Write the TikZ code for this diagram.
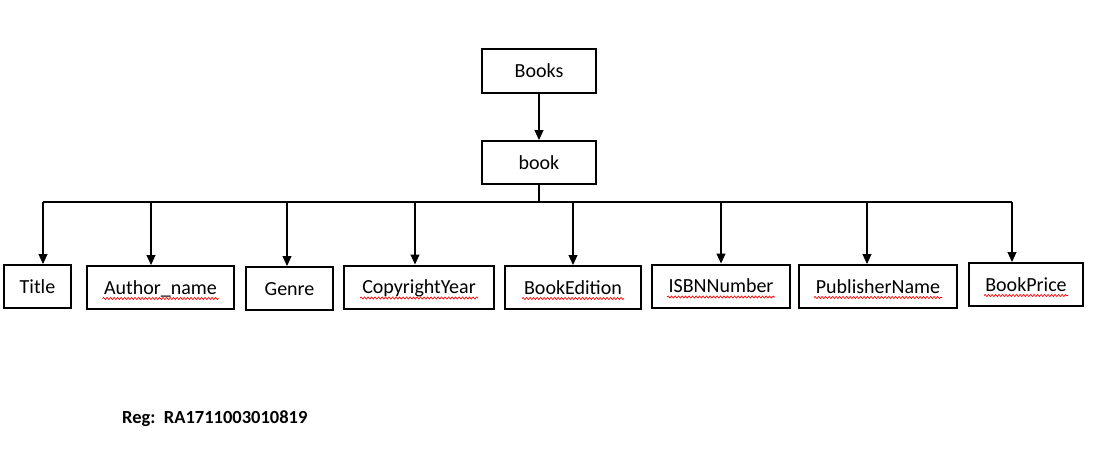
\documentclass[tikz,border=0pt]{standalone}
\usepackage{fontspec}
\setmainfont{Carlito}
\usetikzlibrary{arrows.meta}
\usetikzlibrary{decorations.pathmorphing}

\begin{document}
\begin{tikzpicture}[x=1pt,y=-1pt,>={Triangle[width=9pt,length=10pt]},
  box/.style={draw,line width=2pt,minimum height=43pt,inner sep=0pt,text height=18pt,text depth=5pt,
    font=\fontsize{20}{24}\selectfont},
  link/.style={line width=1.1pt},
  redwave/.style={draw=red,line width=0.7pt,decorate,decoration={snake,amplitude=1pt,segment length=3.5pt}}]
\useasboundingbox (0,0) rectangle (1093,469);
% The root and the record
\node[box,minimum width=114pt,minimum height=44pt] (books) at (539,71) {Books};
\node[box,minimum width=114pt] (book) at (539,162.5) {book};
\draw[link,->] (books.south) -- (book.north);
% The bus
\coordinate (bus) at (539,202);
\draw[link] (book.south) -- (bus);
% The fields (last column: half length of the spell-check wave)
\foreach \n/\cx/\cy/\w/\ax/\txt/\hw in {
  title/37.5/286.5/67pt/43/Title/0,
  author/160.5/287.5/147pt/151/Author\_name/58,
  genre/289.5/288.5/87pt/287/Genre/0,
  copy/419/287/150pt/415/CopyrightYear/59,
  edition/573/287.5/136pt/573/BookEdition/51,
  isbn/721/286/138pt/721/ISBNNumber/54,
  publisher/878/286.5/158pt/867/PublisherName/64,
  price/1026/284.5/114pt/1012/BookPrice/42}
{
  \node[box,minimum width=\w] (\n) at (\cx,\cy) {\txt};
  \coordinate (b\n) at (\ax,202);
  \draw[link,->] (b\n) -- (b\n |- \n.north);
  \ifnum\hw>0
    \draw[redwave] ([xshift=-\hw pt,yshift=-4.5pt]\n.base) -- ([xshift=\hw pt,yshift=-4.5pt]\n.base);
  \fi
}
\draw[link] (btitle) -- (bprice);
% The registration line
\node[anchor=west,inner sep=0pt,font=\bfseries\fontsize{18.5}{22}\selectfont] (reg) at (122,419) {Reg:~~RA1711003010819};
\end{tikzpicture}
\end{document}
